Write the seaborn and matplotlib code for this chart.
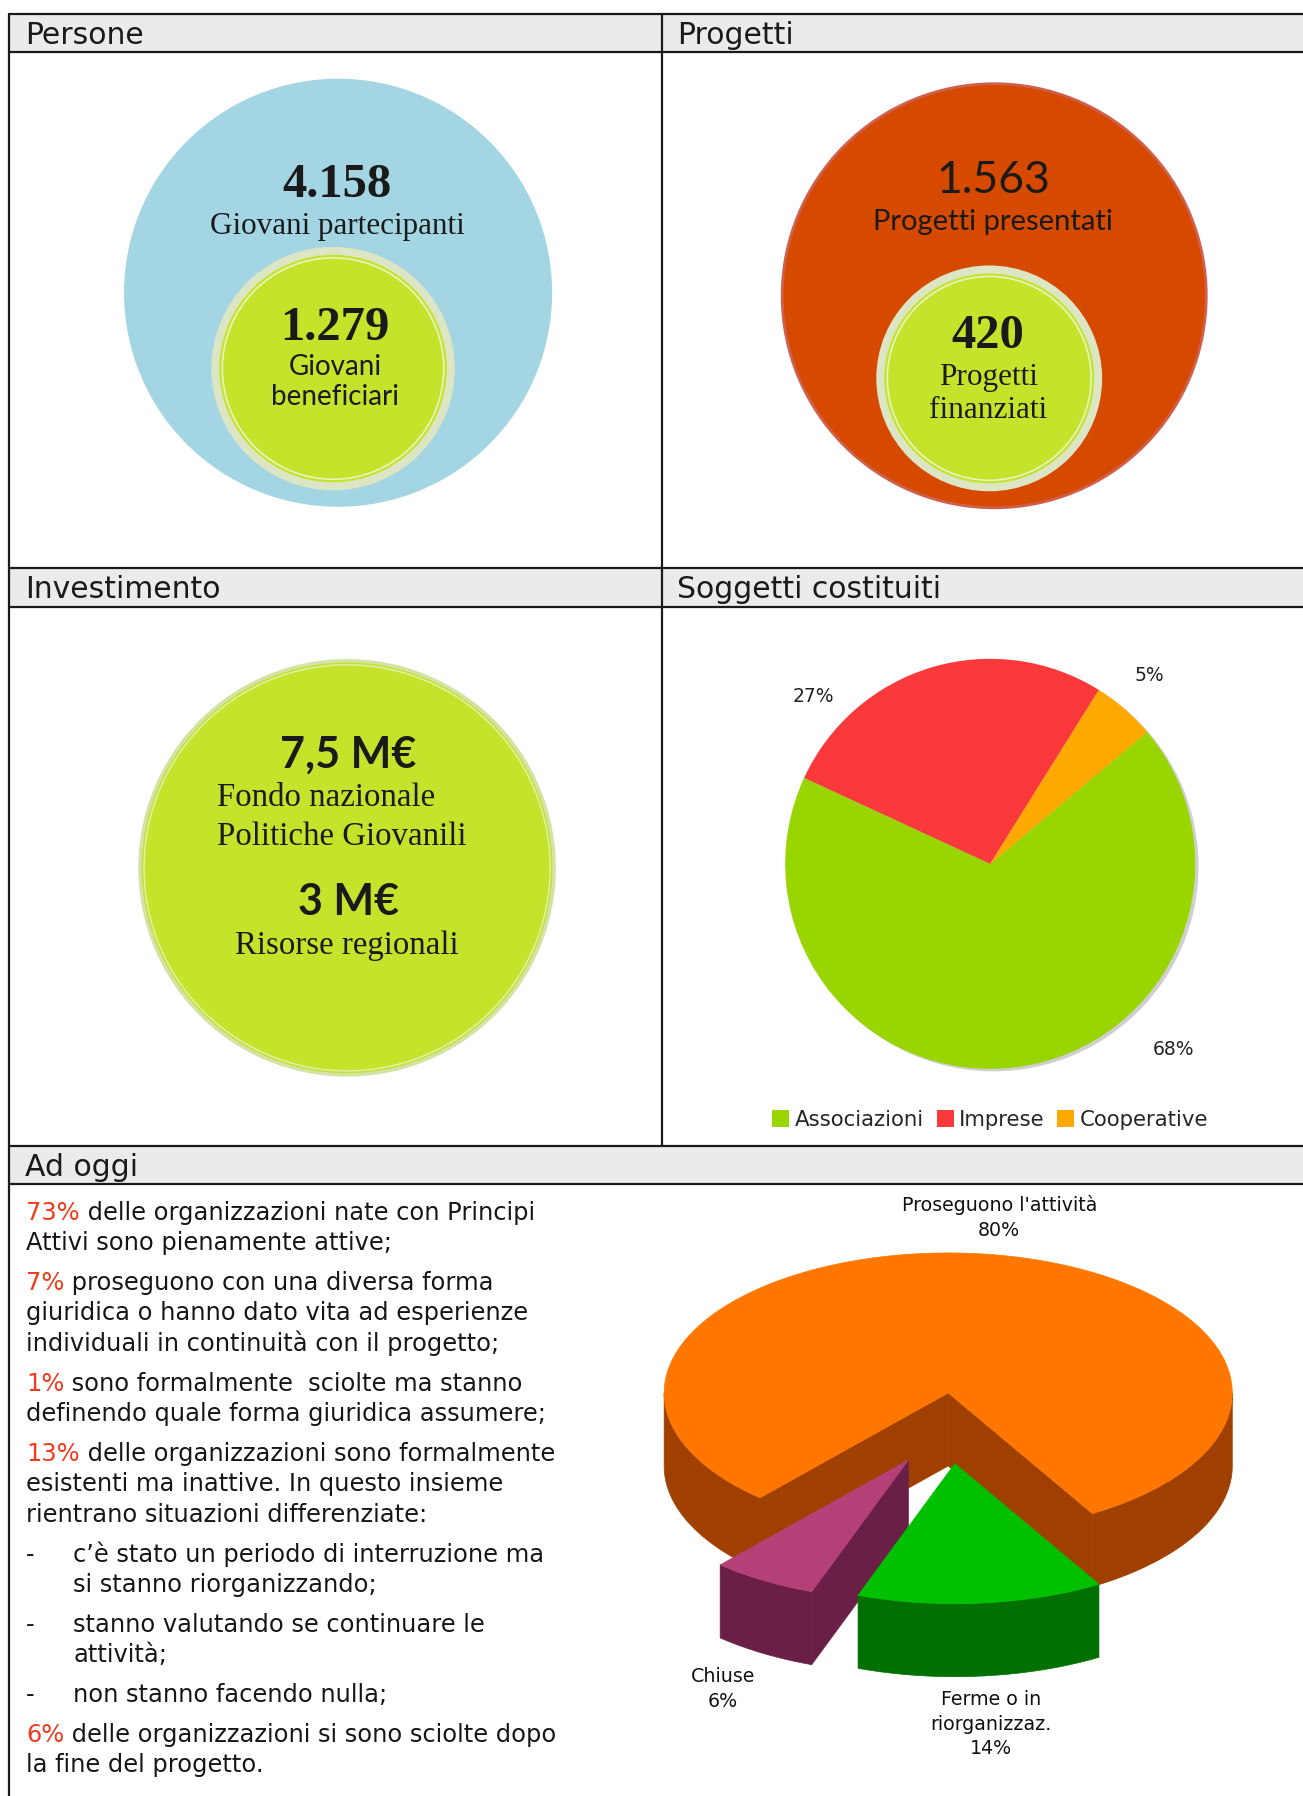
import numpy as np
import matplotlib
matplotlib.use('Agg')
import matplotlib.pyplot as plt
import seaborn as sns
from matplotlib.patches import Circle, Polygon, Rectangle, Patch

# ---- data ----
section_titles = ['Persone', 'Progetti', 'Investimento', 'Soggetti costituiti', 'Ad oggi']

persone_values = [4158, 1279]
persone_labels = ['Giovani partecipanti', 'Giovani\nbeneficiari']
progetti_values = [1563, 420]
progetti_labels = ['Progetti presentati', 'Progetti\nfinanziati']

invest_amounts = ['7,5 M€', '3 M€']
invest_labels = ['Fondo nazionale\nPolitiche Giovanili', 'Risorse regionali']

soggetti_names = ['Associazioni', 'Imprese', 'Cooperative']
soggetti_pct = [68, 27, 5]

esito_names = ["Proseguono l'attività", 'Ferme o in\nriorganizzaz.', 'Chiuse']
esito_pct = [80, 14, 6]

ad_oggi_pct = ['73%', '7%', '1%', '13%', '6%']
ad_oggi_lines = [
    [' delle organizzazioni nate con Principi', 'Attivi sono pienamente attive;'],
    [' proseguono con una diversa forma', 'giuridica o hanno dato vita ad esperienze',
     'individuali in continuità con il progetto;'],
    [' sono formalmente  sciolte ma stanno', 'definendo quale forma giuridica assumere;'],
    [' delle organizzazioni sono formalmente', 'esistenti ma inattive. In questo insieme',
     'rientrano situazioni differenziate:'],
    [' delle organizzazioni si sono sciolte dopo', 'la fine del progetto.'],
]
bullet_lines = [
    ['c’è stato un periodo di interruzione ma', 'si stanno riorganizzando;'],
    ['stanno valutando se continuare le', 'attività;'],
    ['non stanno facendo nulla;'],
]

# ---- style ----
sns.set_theme(style='white')
plt.rcParams['font.family'] = ['DejaVu Sans']
SERIF = ['Liberation Serif', 'DejaVu Serif']
CAL = ['Lato', 'DejaVu Sans']
RED = '#f3391c'
INK = '#161616'
W, H = 1303, 1796


def fmt(v):
    return f'{v:,}'.replace(',', '.')


fig = plt.figure(figsize=((W + 0.3) / 100, (H + 0.3) / 100), dpi=100)
ax = fig.add_axes([0, 0, 1, 1])
ax.set_xlim(0, W)
ax.set_ylim(H, 0)
ax.axis('off')

# table frame and header bands
LEFT, MID = 9, 662
bands = [(14, 52), (568, 607), (1146, 1184)]
for y0, y1 in bands:
    ax.add_patch(Rectangle((LEFT, y0), W - LEFT, y1 - y0, fc='#ebebeb', ec='none', zorder=1))
    ax.plot([LEFT, W], [y0, y0], color='k', lw=1.6, zorder=2)
    ax.plot([LEFT, W], [y1, y1], color='k', lw=1.6, zorder=2)
ax.plot([LEFT, LEFT], [14, H], color='k', lw=1.6, zorder=2)
ax.plot([MID, MID], [14, 1146], color='k', lw=1.6, zorder=2)

title_pos = [(25, 44), (677, 44), (25, 598), (677, 598), (25, 1176)]
for t, (x, y) in zip(section_titles, title_pos):
    ax.text(x, y, t, fontsize=21.5, color='k', va='baseline', ha='left', zorder=3)


# ---- nested bubbles (inner area proportional to the values) ----
def bubbles(cx, cy, R, values, outer_col, edge_col=None):
    r = R * np.sqrt(values[1] / values[0])
    ix, iy = cx - 5, cy + R - r - 19.5
    ax.add_patch(Circle((cx, cy), R, fc=outer_col,
                        ec=edge_col if edge_col else 'none', lw=2, zorder=3))
    ax.add_patch(Circle((ix, iy), r + 3, fc='#dce6c4', ec='none', zorder=4))
    ax.add_patch(Circle((ix, iy), r - 5, fc='#c4e32b', ec='none', zorder=5))
    ax.add_patch(Circle((ix, iy), r - 8, fc='none', ec='#eaf3c4', lw=1.2, zorder=6))


bubbles(338, 293, 214, persone_values, '#a3d6e2')
bubbles(994, 296, 212, progetti_values, '#d64a00', '#d0604e')

ax.text(337, 197, fmt(persone_values[0]), family=SERIF, weight='bold', fontsize=35,
        ha='center', va='baseline', color='k', zorder=8)
ax.text(337, 234, persone_labels[0], family=SERIF, fontsize=22.4, ha='center',
        va='baseline', color='k', zorder=8)
ax.text(335, 340, fmt(persone_values[1]), family=SERIF, weight='bold', fontsize=35,
        ha='center', va='baseline', color='k', zorder=8)
for i, line in enumerate(persone_labels[1].split('\n')):
    ax.text(335, 375 + 30 * i, line, family=CAL, fontsize=20, ha='center',
            va='baseline', color='k', zorder=8)

ax.text(993, 193, fmt(progetti_values[0]), family=CAL, fontsize=32, ha='center',
        va='baseline', color='k', zorder=8)
ax.text(993, 230, progetti_labels[0], family=CAL, fontsize=21, ha='center',
        va='baseline', color='k', zorder=8)
ax.text(988, 348, fmt(progetti_values[1]), family=SERIF, weight='bold', fontsize=35,
        ha='center', va='baseline', color='k', zorder=8)
for i, line in enumerate(progetti_labels[1].split('\n')):
    ax.text(988, 385 + 33 * i, line, family=SERIF, fontsize=22.5, ha='center',
            va='baseline', color='k', zorder=8)

# ---- investimento ----
ax.add_patch(Circle((347, 868), 207, fc='#c4e32b', ec='#d3e2a6', lw=2.5, zorder=3))
ax.add_patch(Circle((347, 868), 203, fc='none', ec='#e4f0b6', lw=1.0, zorder=4))
ax.text(348, 768, invest_amounts[0], family=CAL, weight='bold', fontsize=31,
        ha='center', va='baseline', color='k', zorder=8)
for i, line in enumerate(invest_labels[0].split('\n')):
    ax.text(217, 806 + 39 * i, line, family=SERIF, fontsize=23.7, ha='left',
            va='baseline', color='k', zorder=8)
ax.text(348, 915, invest_amounts[1], family=CAL, weight='bold', fontsize=31,
        ha='center', va='baseline', color='k', zorder=8)
ax.text(347, 954, invest_labels[1], family=SERIF, fontsize=23.7, ha='center',
        va='baseline', color='k', zorder=8)

# ---- soggetti costituiti pie ----
pie_colors = ['#99d500', '#f9393a', '#ffa800']
pcx, pcy, pr = 990, 864, 205
S = 300
pax = fig.add_axes([(pcx - S) / W, 1 - (pcy + S) / H, 2 * S / W, 2 * S / H])
pax.add_patch(Circle((0.016, -0.012), 1.0, fc='#cfcfcf', ec='none', zorder=0))
pax.pie(soggetti_pct, colors=pie_colors, startangle=40, counterclock=False, radius=1,
        wedgeprops=dict(linewidth=0))
pax.set_xlim(-S / pr, S / pr)
pax.set_ylim(-S / pr, S / pr)
pax.set_aspect('equal')
pax.axis('off')
label_xy = [(0.893, -0.902), (-0.863, 0.817), (0.776, 0.922)]
for v, (lx, ly) in zip(soggetti_pct, label_xy):
    pax.text(lx, ly, f'{v}%', fontsize=13.5, ha='center', va='center', color='#222222')

handles = [Patch(fc=c, ec='none') for c in pie_colors]
fig.legend(handles, soggetti_names, loc='center', bbox_to_anchor=(990 / W, 1 - 1120 / H),
           ncol=3, frameon=False, fontsize=15.3, handlelength=0.8, handleheight=0.8,
           handletextpad=0.25, columnspacing=0.6, borderaxespad=0, borderpad=0)


# ---- ad oggi 3D pie ----
def pie3d(values, tops, sides, explode, center, rx, ry, depth, start):
    cx, cy = center
    total = sum(values)
    a = start
    pieces = []
    for v, top, side, ex in zip(values, tops, sides, explode):
        a0, a1 = a, a + 360 * v / total
        a = a1
        tm = np.radians((a0 + a1) / 2)
        pieces.append((np.sin(tm), a0, a1, cx + ex * np.cos(tm), cy + ex * np.sin(tm), top, side))
    pieces.sort(key=lambda p: p[0])
    for k, (_, a0, a1, ox, oy, top, side) in enumerate(pieces):
        z = 10 + 3 * k

        def arc(t0, t1, dz=0.0):
            t = np.radians(np.linspace(t0, t1, 120))
            return np.column_stack([ox + rx * np.cos(t), oy + ry * np.sin(t) + dz])

        for base in (-360, 0, 360):
            lo, hi = max(a0, base), min(a1, base + 180)
            if hi > lo:
                pts = np.vstack([arc(lo, hi), arc(lo, hi, depth)[::-1]])
                ax.add_patch(Polygon(pts, fc=side, ec=side, lw=0.5, zorder=z))
        for ang, sign in ((a0, -1), (a1, 1)):
            ar = np.radians(ang)
            if sign * np.cos(ar) > 0:
                ex_, ey_ = ox + rx * np.cos(ar), oy + ry * np.sin(ar)
                pts = [(ox, oy), (ex_, ey_), (ex_, ey_ + depth), (ox, oy + depth)]
                ax.add_patch(Polygon(pts, fc=side, ec=side, lw=0.5, zorder=z + 1))
        pts = np.vstack([[ox, oy], arc(a0, a1)])
        ax.add_patch(Polygon(pts, fc=top, ec=top, lw=0.5, zorder=z + 2))


pie3d(esito_pct, ['#ff7700', '#00c000', '#b54077'], ['#a04000', '#007000', '#6a2046'],
      [0, 71, 78], (948, 1393), 284, 140, 73, 131.5)

esito_label_xy = [(999, 1211), (991, 1705), (723, 1682)]
for name, v, (lx, ly) in zip(esito_names, esito_pct, esito_label_xy):
    for i, line in enumerate((name + '\n' + f'{v}%').split('\n')):
        ax.text(lx, ly + 24.5 * i, line, fontsize=13.7, ha='center', va='baseline',
                color='#111111', zorder=20)

# ---- ad oggi text ----
FS = 17.35
y = 1219.5
step, gap = 30.3, 9.7
for p in range(4):
    t = ax.text(26, y, ad_oggi_pct[p], fontsize=FS, color=RED, va='baseline', zorder=20)
    ax.annotate(ad_oggi_lines[p][0], xy=(1, 0), xycoords=t, fontsize=FS, color=INK,
                va='bottom', ha='left', zorder=20)
    for line in ad_oggi_lines[p][1:]:
        y += step
        ax.text(26, y, line, fontsize=FS, color=INK, va='baseline', zorder=20)
    y += step + gap
for lines in bullet_lines:
    ax.text(26, y, '-', fontsize=FS, color=INK, va='baseline', zorder=20)
    for i, line in enumerate(lines):
        if i:
            y += step
        ax.text(73, y, line, fontsize=FS, color=INK, va='baseline', zorder=20)
    y += step + gap
t = ax.text(26, y, ad_oggi_pct[4], fontsize=FS, color=RED, va='baseline', zorder=20)
ax.annotate(ad_oggi_lines[4][0], xy=(1, 0), xycoords=t, fontsize=FS, color=INK,
            va='bottom', ha='left', zorder=20)
ax.text(26, y + step, ad_oggi_lines[4][1], fontsize=FS, color=INK, va='baseline', zorder=20)

fig.savefig('out.png', dpi=100)
